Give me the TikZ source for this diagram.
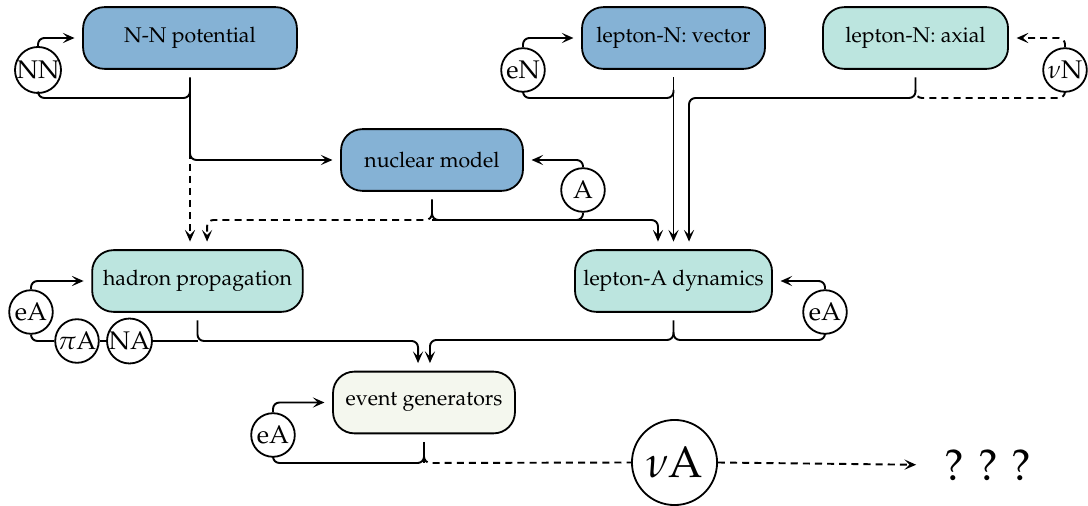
\documentclass[tikz,border=0pt]{standalone}
\usepackage[T1]{fontenc}
\usepackage{mathpazo}
\usepackage{tikz}
\usetikzlibrary{arrows.meta}
\definecolor{boxblue}{RGB}{133,178,213}
\definecolor{boxteal}{RGB}{188,229,223}
\definecolor{boxpale}{RGB}{244,247,238}

\begin{document}
\begin{tikzpicture}[x=0.47pt,y=-0.47pt,
    stage/.style={draw,line width=0.85pt,rounded corners=10pt,minimum height=29pt,inner sep=0pt},
    dat/.style={draw,circle,line width=0.85pt,fill=white,inner sep=0pt,minimum size=20.5pt,font=\large},
    conn/.style={line width=0.9pt,rounded corners=3pt},
    arr/.style={conn,-{Stealth[length=5.5pt,width=4.8pt,inset=2.4pt]},shorten >=3.6pt},
    off/.style={shorten <=3.6pt},
    dsh/.style={dash pattern=on 3.3pt off 2.4pt}]
    \useasboundingbox (0,0) rectangle (1088,506);
    % Kaesten
    \node[stage,fill=boxblue,minimum width=100.5pt] (nnpot) at (190,38) {N-N potential};
    \node[stage,fill=boxblue,minimum width=86pt] (lnvec) at (673.5,38) {lepton-N: vector};
    \node[stage,fill=boxteal,minimum width=87pt] (lnax) at (915.5,38) {lepton-N: axial};
    \node[stage,fill=boxblue,minimum width=85.5pt] (nucl) at (432,160) {nuclear model};
    \node[stage,fill=boxteal,minimum width=99pt] (hadr) at (197.5,281) {hadron propagation};
    \node[stage,fill=boxteal,minimum width=92.6pt] (ladyn) at (673.5,281) {lepton-A dynamics};
    \node[stage,fill=boxpale,minimum width=85.5pt] (evgen) at (424,402.5) {event generators};
    % Daten
    \node[dat] (dNN) at (38,70) {NN};
    \node[dat] (deN) at (523,70) {eN};
    \node[dat] (dnuN) at (1065,70) {$\nu$N};
    \node[dat] (dA) at (583,190) {A};
    \node[dat] (deAa) at (31,312) {eA};
    \node[dat] (dpiA) at (77,341) {$\pi$A};
    \node[dat] (dNA) at (129.5,341) {NA};
    \node[dat] (deAb) at (825,312) {eA};
    \node[dat] (deAc) at (273,435) {eA};
    \node[draw,circle,line width=0.85pt,inner sep=0pt,minimum size=40pt] (dnuA) at (674.5,462.5) {\huge$\nu$A};
    \node (qqq) at (988,465) {\huge ? ? ?};
    % Verzweigungen
    \coordinate (jNN) at (190,98);
    \coordinate (jVec) at (673.5,98);
    \coordinate (jAx) at (915.5,98);
    \coordinate (jNuc) at (432,220);
    \coordinate (jHad) at (197.5,341);
    \coordinate (jLA) at (673.5,340);
    \coordinate (jEv) at (424,463);
    % oben
    \draw[arr] (dNN.north) |- (nnpot.west);
    \draw[conn] (dNN.south) |- (jNN) -- +(0,-8);
    \draw[arr,off] (nnpot.south) |- (nucl.west);
    \draw[arr,dsh] ([yshift=4pt]nnpot.south |- nucl.west) -- (nnpot.south |- hadr.north);
    \draw[arr] (deN.north) |- (lnvec.west);
    \draw[conn] (deN.south) |- (jVec) -- +(0,-8);
    \draw[arr,off] (lnvec.south) -- (lnvec.south |- ladyn.north);
    \draw[arr,off] (lnax.south) -- (jAx) -| ([xshift=7.3pt]ladyn.north);
    \draw[arr,dsh] (dnuN.north) |- (lnax.east);
    \draw[conn,dsh] (dnuN.south) |- (jAx) -- +(0,-8);
    % Mitte
    \draw[arr] (dA.north) |- (nucl.east);
    \draw[arr,off] (nucl.south) -- (jNuc) -| ([xshift=-7.3pt]ladyn.north);
    \draw[conn] (dA.south) |- (jNuc);
    \draw[arr,dsh] ([yshift=3pt]jNuc) -- (jNuc) -| ([xshift=4.5pt]hadr.north);
    % unten
    \draw[arr] (deAa.north) |- (hadr.west);
    \draw[conn] (deAa.south) |- (dpiA.west);
    \draw[conn] (dpiA) -- (dNA);
    \draw[conn] (dNA.east) -- (jHad);
    \draw[arr,off] (hadr.south) -- (jHad) -| ([xshift=-2.8pt]evgen.north);
    \draw[arr] (deAb.north) |- (ladyn.east);
    \draw[conn] (deAb.south) |- (jLA) -- +(0,-8);
    \draw[arr,off] (ladyn.south) -- (jLA) -| ([xshift=2.8pt]evgen.north);
    \draw[arr] (deAc.north) |- (evgen.west);
    \draw[conn] (deAc.south) |- (jEv) -- +(0,-8);
    \draw[conn,off] (evgen.south) -- (jEv);
    \draw[conn,dsh] ([yshift=3pt]jEv) -- (jEv) -- (dnuA.west);
    \draw[arr,dsh,shorten >=10pt] (dnuA.east) -- (qqq.west);
\end{tikzpicture}
\end{document}
